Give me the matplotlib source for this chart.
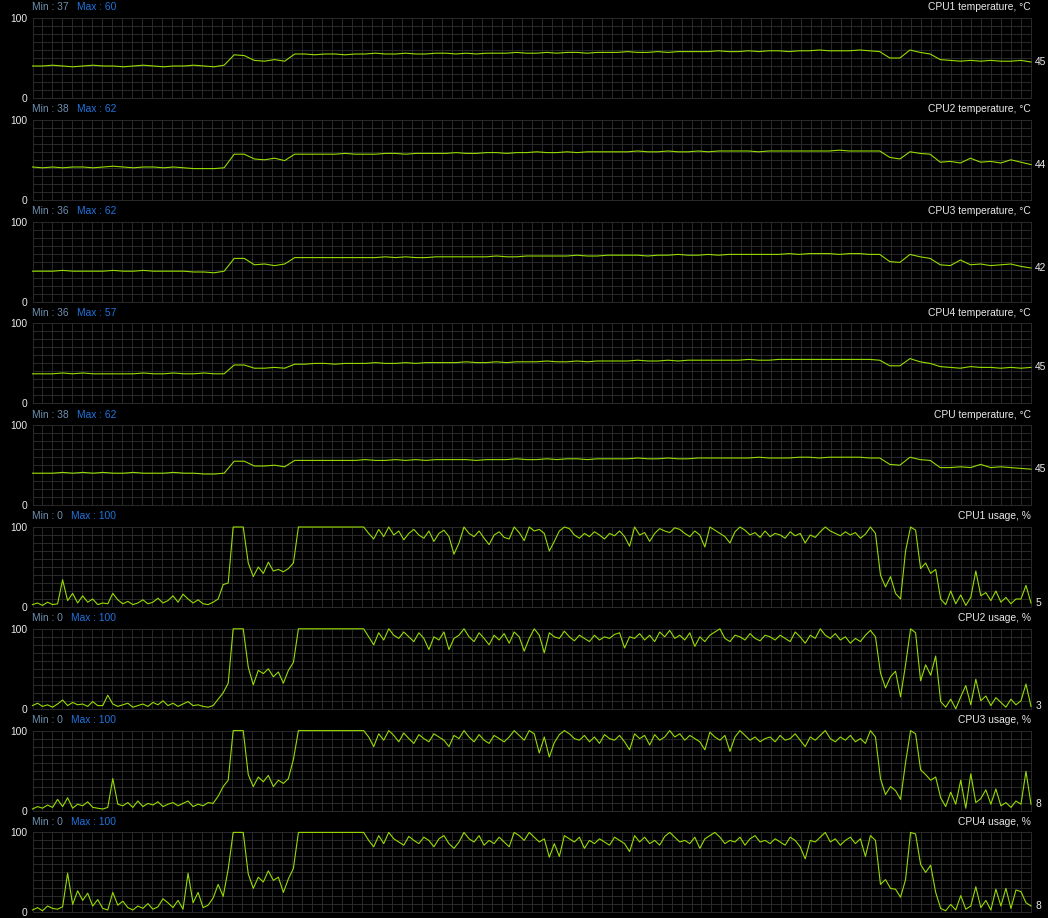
import numpy as np
import matplotlib.pyplot as plt

# Hardware monitor log: 5 temperature graphs + 4 core usage graphs ###
titles = ["CPU1 temperature, °C", "CPU2 temperature, °C", "CPU3 temperature, °C",
          "CPU4 temperature, °C", "CPU temperature, °C",
          "CPU1 usage, %", "CPU2 usage, %", "CPU3 usage, %", "CPU4 usage, %"]
min_vals = [37, 38, 36, 36, 38, 0, 0, 0, 0]
max_vals = [60, 62, 62, 57, 62, 100, 100, 100, 100]

# temperatures, one value every ~10 px of the graph
cpu1_temp = [40, 40, 41, 40, 39, 40, 41, 40, 40, 39, 40, 41, 40, 39, 40, 40, 41, 40, 39,
             41, 54, 53, 47, 46, 48, 46,
             55, 55, 54, 55, 55, 54, 55, 55, 56, 55,
             55, 56, 55, 55, 56, 56, 55, 56, 55, 56,
             56, 56, 57, 56, 56, 57, 56, 57, 57, 56,
             57, 57, 57, 58, 57, 57, 58, 57, 58, 58,
             58, 58, 59, 58, 58, 59, 58, 59, 59, 58,
             59, 59, 60, 59, 59, 59, 60, 59, 58,
             50, 50, 60, 57, 55, 48, 47, 46, 47, 46, 47, 46, 46, 47, 45]
cpu2_temp = [41, 40, 41, 40, 41, 41, 40, 41, 42, 41, 40, 41, 41, 40, 41, 40, 39, 39, 39,
             40, 57, 57, 51, 50, 52, 49,
             57, 57, 57, 57, 57, 58, 57, 57, 57, 58,
             58, 57, 58, 58, 58, 58, 59, 58, 58, 59,
             59, 58, 59, 59, 60, 59, 59, 60, 59, 60,
             60, 60, 60, 60, 61, 60, 60, 61, 60, 60,
             61, 60, 61, 61, 61, 61, 60, 61, 61, 61,
             61, 61, 61, 61, 62, 61, 61, 61, 61,
             53, 51, 60, 58, 57, 47, 48, 46, 52, 47, 48, 46, 50, 47, 44]
cpu3_temp = [38, 38, 38, 39, 38, 38, 38, 38, 39, 38, 38, 39, 38, 38, 38, 38, 37, 37, 36,
             38, 54, 54, 46, 47, 45, 47,
             55, 55, 55, 55, 55, 55, 55, 55, 55, 56,
             55, 56, 55, 55, 56, 56, 56, 56, 56, 56,
             57, 56, 56, 57, 57, 57, 57, 57, 58, 57,
             57, 58, 58, 58, 58, 57, 58, 58, 59, 58,
             58, 59, 58, 59, 59, 59, 59, 59, 59, 60,
             59, 60, 60, 60, 59, 60, 60, 59, 59,
             50, 49, 59, 56, 54, 46, 45, 52, 46, 47, 45, 46, 47, 44, 42]
cpu4_temp = [37, 37, 37, 38, 37, 38, 37, 37, 37, 37, 37, 38, 37, 37, 38, 37, 37, 38, 37,
             37, 48, 48, 44, 44, 45, 44,
             49, 49, 50, 50, 49, 50, 50, 50, 51, 50,
             50, 51, 50, 51, 51, 51, 51, 52, 51, 51,
             52, 51, 52, 52, 52, 53, 52, 52, 53, 52,
             53, 53, 53, 53, 54, 53, 53, 54, 53, 54,
             54, 54, 54, 54, 54, 55, 54, 54, 55, 55,
             55, 55, 55, 55, 55, 55, 55, 55, 54,
             47, 47, 56, 52, 50, 46, 45, 44, 46, 45, 45, 44, 45, 44, 45]
cpu_temp = [40, 40, 40, 41, 40, 41, 40, 41, 40, 40, 41, 40, 40, 40, 41, 40, 40, 39, 39,
            40, 55, 55, 49, 49, 50, 48,
            56, 56, 56, 56, 56, 56, 56, 57, 56, 56,
            57, 56, 57, 56, 57, 57, 57, 57, 56, 57,
            57, 57, 58, 57, 57, 58, 57, 58, 58, 57,
            58, 58, 58, 58, 59, 58, 58, 59, 58, 58,
            59, 59, 59, 59, 59, 59, 60, 59, 59, 59,
            60, 60, 59, 60, 60, 60, 60, 59, 59,
            51, 50, 60, 57, 56, 47, 47, 48, 47, 51, 47, 48, 47, 46, 45]

# usage, one value every ~5 px of the graph
cpu1_use = [3, 5, 2, 6, 3, 4, 34, 8, 17, 5, 14, 6, 10, 3, 5, 4, 17, 9, 4, 7,
            3, 5, 9, 4, 6, 11, 5, 8, 14, 6, 16, 10, 5, 9, 4, 3, 6,
            10, 28, 30, 100, 100, 100, 55, 38, 50, 42, 56, 45, 47, 44, 48, 55,
            100, 100, 100, 100, 100, 100, 100, 100, 100, 100, 100, 100, 100, 100,
            92, 85, 97, 88, 100, 90, 95, 84, 92, 97,
            90, 86, 95, 82, 92, 96, 88, 66, 80, 100,
            92, 88, 95, 86, 78, 90, 94, 87, 85, 100,
            93, 83, 100, 95, 97, 92, 70, 82, 95, 100,
            98, 90, 86, 92, 88, 94, 90, 85, 92, 89,
            95, 88, 76, 100, 90, 93, 82, 92, 98, 95,
            93, 99, 97, 92, 88, 95, 90, 75, 100, 96,
            92, 88, 80, 94, 100, 96, 90, 93, 87, 95,
            88, 92, 90, 86, 94, 89, 92, 80, 90, 87,
            94, 100, 95, 92, 89, 94, 90, 93, 86, 91,
            100, 92,
            40, 25, 38, 17, 10, 70, 100, 96, 48, 55, 42, 47, 10, 3, 20, 4, 15, 2, 12, 45,
            14, 18, 8, 20, 6, 12, 4, 10, 10, 27, 5]
cpu2_use = [4, 7, 3, 5, 2, 6, 11, 4, 8, 5, 6, 3, 9, 4, 4, 17, 6, 3, 5, 7,
            2, 4, 6, 3, 8, 5, 10, 4, 7, 3, 6, 9, 4, 5, 3, 2, 4,
            12, 20, 32, 100, 100, 100, 52, 30, 48, 44, 50, 40, 46, 32, 48, 58,
            100, 100, 100, 100, 100, 100, 100, 100, 100, 100, 100, 100, 100, 100,
            90, 80, 95, 86, 100, 92, 88, 96, 90, 84,
            95, 88, 74, 90, 86, 96, 74, 88, 92, 100,
            90, 84, 95, 88, 80, 92, 86, 94, 82, 96,
            90, 72, 88, 100, 92, 70, 95, 90, 88, 97,
            90, 85, 92, 88, 84, 92, 86, 90, 88, 93,
            95, 76, 90, 88, 94, 86, 92, 84, 96, 90,
            98, 88, 92, 86, 95, 78, 90, 84, 92, 96,
            100, 88, 84, 92, 90, 86, 94, 88, 85, 92,
            90, 86, 92, 88, 84, 96, 90, 82, 92, 88,
            100, 92, 88, 94, 86, 90, 82, 88, 84, 92,
            98, 90,
            45, 26, 40, 47, 15, 55, 100, 95, 35, 55, 42, 66, 9, 2, 12, 0, 15, 29, 5, 37,
            10, 16, 4, 14, 8, 2, 12, 5, 10, 31, 3]
cpu3_use = [2, 5, 3, 7, 4, 14, 5, 16, 3, 8, 6, 11, 4, 3, 2, 4, 40, 8, 6, 10,
            4, 12, 5, 9, 7, 11, 5, 8, 10, 6, 9, 12, 5, 8, 6, 10, 9,
            18, 30, 38, 100, 100, 100, 45, 30, 42, 36, 44, 30, 38, 34, 40, 64,
            100, 100, 100, 100, 100, 100, 100, 100, 100, 100, 100, 100, 100, 100,
            92, 80, 96, 88, 100, 94, 86, 97, 90, 84,
            95, 90, 86, 96, 92, 88, 80, 94, 90, 100,
            92, 86, 95, 88, 84, 94, 90, 86, 92, 100,
            94, 88, 100, 96, 72, 92, 67, 85, 95, 100,
            96, 90, 88, 94, 86, 92, 84, 95, 90, 88,
            94, 86, 76, 96, 90, 94, 82, 95, 88, 92,
            100, 92, 96, 88, 94, 90, 86, 76, 98, 92,
            88, 94, 74, 92, 100, 94, 88, 92, 86, 90,
            92, 86, 94, 88, 90, 96, 88, 80, 92, 88,
            94, 100, 90, 86, 92, 88, 94, 86, 90, 84,
            100, 92,
            40, 20, 30, 25, 14, 60, 100, 96, 51, 45, 38, 42, 16, 5, 23, 8, 38, 3, 46, 10,
            15, 26, 8, 27, 6, 10, 4, 12, 8, 49, 8]
cpu4_use = [3, 6, 2, 8, 5, 4, 7, 49, 10, 27, 15, 24, 8, 16, 5, 3, 25, 9, 14, 6,
            3, 8, 5, 11, 4, 7, 17, 12, 6, 15, 4, 49, 12, 25, 6, 9, 18,
            35, 20, 54, 100, 100, 100, 48, 30, 44, 38, 52, 40, 44, 25, 42, 55,
            100, 100, 100, 100, 100, 100, 100, 100, 100, 100, 100, 100, 100, 100,
            90, 82, 96, 86, 100, 92, 88, 84, 95, 90,
            86, 94, 90, 82, 92, 96, 86, 80, 88, 100,
            92, 88, 96, 84, 90, 86, 94, 88, 82, 100,
            96, 90, 100, 94, 88, 92, 69, 86, 70, 96,
            92, 88, 94, 80, 90, 86, 92, 88, 84, 94,
            90, 86, 76, 96, 88, 94, 86, 90, 84, 95,
            100, 94, 88, 90, 86, 94, 80, 92, 96, 100,
            94, 86, 90, 88, 94, 84, 92, 96, 88, 90,
            86, 92, 88, 84, 94, 90, 82, 67, 90, 88,
            94, 100, 88, 92, 84, 90, 94, 86, 92, 70,
            96, 90,
            35, 41, 30, 29, 19, 41, 100, 98, 60, 50, 59, 25, 5, 2, 10, 3, 21, 4, 8, 32,
            6, 15, 3, 29, 8, 30, 5, 28, 26, 12, 8]

series = [cpu1_temp, cpu2_temp, cpu3_temp, cpu4_temp, cpu_temp,
          cpu1_use, cpu2_use, cpu3_use, cpu4_use]

# look ##############################################################
line_color = "#96dc00"
grid_color = "#282828"
min_color = "#6e8fae"
max_color = "#1f74dd"
text_color = "#e8e8e8"
fs = 7.4

plt.rcParams['font.family'] = ['Liberation Sans', 'DejaVu Sans']

W, H = 1048, 918
fig = plt.figure(figsize=(W / 100, H / 100), dpi=100, facecolor="black")

for i in range(len(series)):
    vals = series[i]
    top = 18 + i * 101.8          # pixel row of the 100 line
    ax = fig.add_axes([32.5 / W, 1 - (top + 80) / H, 998.5 / W, 80 / H])
    ax.set_facecolor("black")

    x = np.arange(len(vals))
    ax.plot(x, vals, color=line_color, lw=0.8, clip_on=False, zorder=3)
    ax.set_xlim(0, len(vals) - 1)
    ax.set_ylim(0, 100)

    # grid: 100 columns, 10 rows
    ax.set_xticks(np.linspace(0, len(vals) - 1, 101))
    ax.set_yticks(range(0, 101, 10))
    ax.set_yticklabels(["0"] + [""] * 9 + ["100"])
    ax.tick_params(length=0, labelbottom=False, labelsize=fs,
                   labelcolor=text_color, pad=3.5)
    ax.grid(True, color=grid_color, lw=0.75)
    ax.set_axisbelow(True)
    for s in ax.spines.values():
        s.set_color(grid_color)
        s.set_linewidth(0.75)

    # header: min / max on the left, name on the right
    t_min = ax.annotate("Min : %d" % min_vals[i], xy=(0, 1), xycoords="axes fraction",
                        xytext=(0, 7.6), textcoords="offset points",
                        ha="left", va="center", color=min_color, fontsize=fs)
    ax.annotate("Max : %d" % max_vals[i], xy=(1, 0.5), xycoords=t_min,
                xytext=(5.8, 0), textcoords="offset points",
                ha="left", va="center", color=max_color, fontsize=fs)
    ax.annotate(titles[i], xy=(1, 1), xycoords="axes fraction",
                xytext=(0, 7.6), textcoords="offset points",
                ha="right", va="center", color=text_color, fontsize=fs)

    # current value at the right end of the graph
    ax.annotate("%d" % vals[-1], xy=(1, vals[-1]), xycoords=("axes fraction", "data"),
                xytext=(3, 0), textcoords="offset points",
                ha="left", va="center", color=text_color, fontsize=fs)

fig.savefig("out.png", dpi=100, facecolor="black")
